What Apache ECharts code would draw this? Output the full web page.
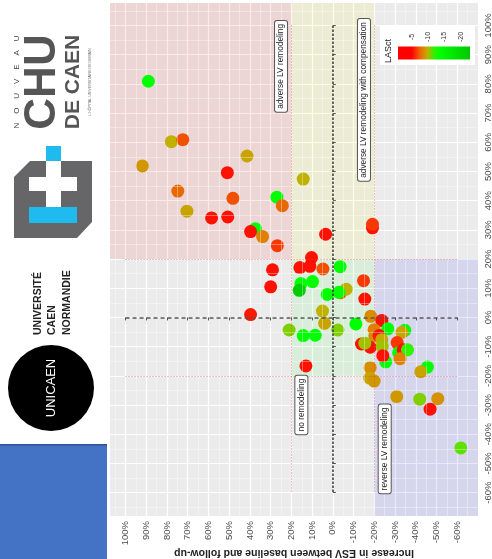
<!DOCTYPE html>
<html>
<head>
<meta charset="utf-8">
<style>html,body{margin:0;padding:0;background:#fff}#c{width:492px;height:559px}</style>
<script src="https://cdn.jsdelivr.net/npm/echarts@6/dist/echarts.min.js"></script>
</head>
<body>
<div id="c"></div>
<script>
var xChange = [89,77.9,72.4,91.9,41.4,50.9,74.8,70.4,48.2,27,24.4,14.3,58.5,50.7,37.4,39.7,33.9,26.8,3.5,-19.1,-19.1,10.3,15.9,11.1,4.8,-3.5,29.1,30,-14.8,15.4,9.8,16.2,2.7,-3.7,-6.4,-2.9,-15.4,5,4,-2.4,-11.1,-18.2,21.1,14.3,8.5,13,39.7,-23.6,-26.5,-19.9,-34.7,-33.3,-20.2,-22.3,-23.6,-13.8,-18,-15.4,-23.8,-31,-31.7,-33.9,-36,-25.5,-24.1,-32.4,-18,-17.8,-19.9,-45.6,-42.4,-30.8,-41.9,-50.6,-46.9,-61.7];
var yChange = [80.9,60.2,60.9,51.9,55.3,49.6,43.3,36.4,40.8,41.2,38.3,47.4,34.1,34.4,30.4,29.4,27.7,24.6,28.5,30.7,31.9,20.5,17.1,17.5,16.6,17.4,16.3,10.5,12.6,11.6,12.3,9.3,7.9,8.5,9.7,8.6,6.3,2.2,-2,-4.3,-2.2,0.4,-4.3,-6.2,-6.1,-16.6,1,-1,-3.9,-4.2,-4.4,-5.1,-6.3,-6.2,-7.6,-9.1,-10.2,-8.8,-9.9,-8.6,-12.1,-11.1,-11.1,-15.2,-13.1,-14.1,-17.2,-20.8,-21.8,-17,-18.6,-27.1,-28,-27.8,-31.4,-44.7];
var lasct = [-14,-10,-7,-9,-9.5,-5,-7.5,-9.5,-7,-14,-7.5,-10,-5,-5,-14,-5,-8,-6.5,-5,-5,-6.5,-5,-5,-5,-7,-14,-5,-5,-6.5,-14,-14,-20,-14,-7,-10,-14,-5,-10,-9.5,-11,-14,-8.5,-11,-14,-14,-5,-5.5,-5,-14,-8,-14,-9.5,-8.5,-5,-9.7,-5,-5,-10.5,-10.5,-6.5,-14,-5,-12.5,-14,-5,-8,-8.5,-9.5,-9,-14,-9.5,-9,-11,-8.7,-5,-11.5];
var xTicks = [-60,-50,-40,-30,-20,-10,0,10,20,30,40,50,60,70,80,90,100];
var yTicks = [-60,-50,-40,-30,-20,-10,0,10,20,30,40,50,60,70,80,90,100];
var legendTicks = [-5,-10,-15,-20];
var zoneNames = ['adverse LV remodeling','adverse LV remodeling with compensation','no remodeling','reverse LV remodeling'];
var zoneLabelX = [25,-15,15.2,-25];
var zoneLabelY = [86,74.5,-30,-45];
var xMinor = [-65,-55,-45,-35,-25,-15,-5,5,15,25,35,45,55,65,75,85,95,105];
var yMinor = [-65,-55,-45,-35,-25,-15,-5,5,15,25,35,45,55,65,75,85,95,105];

var XMIN=-70, XMAX=107.5, YMIN=-68, YMAX=107.7;
var points = xChange.map(function(x,i){return [x,yChange[i],lasct[i]];});
var minorData = xMinor.map(function(v){return [{coord:[v,YMIN]},{coord:[v,YMAX]}];})
  .concat(yMinor.map(function(v){return [{coord:[XMIN,v]},{coord:[XMAX,v]}];}));
var dotted = [[[20,100],[20,-60]],[[-20,100],[-20,-60]],[[100,20],[-60,20]],[[100,-20],[-60,-20]]];
var pct = function(v){return v+'%';};

var R=Math.PI/2;
function rtext(x,y,t,font,color,align){
  var s={text:t,font:font,fill:color,textAlign:align||'center',textVerticalAlign:'middle'};
  return {type:'text',x:x,y:y,rotation:R,z:20,silent:true,style:s};
}
var legendX=legendTicks.map(function(v){return 411.7+(-5-v)*3.27;});
var graphics = [
  {type:'rect',shape:{x:0,y:0,width:110,height:559},z:10,silent:true,style:{fill:'#fff'}},
  rtext(17,82,'N    O    U    V    E    A    U','8px "Liberation Sans"','#444'),
  rtext(43,82,'CHU','bold 44px "Liberation Sans"','#555'),
  rtext(73,82,'DE CAEN','bold 21px "Liberation Sans"','#555'),
  rtext(90,82,"L'HÔPITAL UNIVERSITAIRE DE DEMAIN",'3.6px "Liberation Sans"','#666'),
  {type:'polygon',z:20,silent:true,shape:{points:[[30,161],[92,161],[92,222],[77,238],[14,238],[14,177]]},style:{fill:'#666668'}},
  {type:'rect',z:21,silent:true,shape:{x:46,y:146,width:15,height:15},style:{fill:'#1FBAEE'}},
  {type:'rect',z:21,silent:true,shape:{x:46,y:161,width:15,height:46},style:{fill:'#fff'}},
  {type:'rect',z:21,silent:true,shape:{x:29,y:177,width:48,height:14},style:{fill:'#fff'}},
  {type:'rect',z:21,silent:true,shape:{x:29,y:207,width:48,height:16},style:{fill:'#1FBAEE'}},
  rtext(38,335,'UNIVERSITÉ','bold 10.5px "Liberation Sans"','#222','left'),
  rtext(52,335,'CAEN','bold 10.5px "Liberation Sans"','#222','left'),
  rtext(67,335,'NORMANDIE','bold 10.5px "Liberation Sans"','#222','left'),
  {type:'circle',z:20,silent:true,shape:{cx:51,cy:388,r:43},style:{fill:'#000'}},
  rtext(51,388,'UNICAEN','13px "Liberation Sans"','#fff'),
  {type:'rect',z:20,silent:true,shape:{x:0,y:445,width:107,height:114},style:{fill:'#4472C4'}},
  {type:'rect',z:21,silent:true,shape:{x:0,y:444,width:107,height:1.5},style:{fill:'#2F528F'}},
  {type:'rect',z:20,silent:true,shape:{x:380,y:26,width:95,height:39},style:{fill:'#fff'}},
  {type:'rect',z:21,silent:true,shape:{x:398,y:46.5,width:72,height:13},style:{fill:{type:'linear',x:0,y:0,x2:1,y2:0,colorStops:[
    {offset:0,color:'#ff0000'},{offset:0.19,color:'#ff0000'},{offset:0.3,color:'#f06000'},{offset:0.41,color:'#c0b000'},
    {offset:0.5,color:'#30f000'},{offset:0.58,color:'#00ff00'},{offset:1,color:'#00c800'}]}}},
  rtext(389,51,'LASct','9px "Liberation Sans"','#222')
].concat(legendTicks.map(function(v,i){return rtext(legendX[i],37,String(v),'7px "Liberation Sans"','#333');}));

var chart = echarts.init(document.getElementById('c'),null,{renderer:'canvas'});
var axisCommon = {
  type:'value',
  axisLine:{show:false},
  axisTick:{show:true,length:3,lineStyle:{color:'#555',width:1}},
  splitLine:{show:true,lineStyle:{color:'#fff',width:1.2}},
  minorSplitLine:{show:false},
  axisLabel:{rotate:90,color:'#4d4d4d',fontSize:9.5,fontFamily:'Liberation Sans',margin:5}
};
function mk(o,ticks){var a=JSON.parse(JSON.stringify(axisCommon));a.axisLabel.formatter=pct;
  a.axisTick.customValues=ticks;a.axisLabel.customValues=ticks;for(var k in o)a[k]=o[k];return a;}
function lineSeries(data,style){
  return {type:'line',data:[],z:1,silent:true,
    markLine:{silent:true,symbol:'none',animation:false,label:{show:false},lineStyle:style,
      data:data}};
}
chart.setOption({
  animation:false,
  graphic:graphics,
  grid:{left:110,top:3,width:368,height:513,backgroundColor:'#EBEBEB',show:true,borderWidth:0,outerBoundsMode:'none'},
  xAxis:mk({min:XMIN,max:XMAX,inverse:true,position:'bottom',name:'Increase in ESV between baseline and follow-up',
    nameLocation:'middle',nameRotate:180,nameGap:31,nameMoveOverlap:false,
    nameTextStyle:{fontSize:10.5,fontWeight:'bold',fontFamily:'Liberation Sans',color:'#222'}},xTicks),
  yAxis:mk({min:YMIN,max:YMAX,position:'right'},yTicks),
  visualMap:{show:false,dimension:2,seriesIndex:5,min:-22,max:-2,
    inRange:{color:['#00c000','#00cc00','#00d800','#00e600','#00ff00','#40f000','#c0b000','#e08000','#ff2000','#ff0000','#ff0000']}},
  series:[
    lineSeries(minorData,{color:'rgba(255,255,255,0.45)',width:0.8,type:'solid'}),
    {type:'line',data:[],z:1,silent:true,
      markArea:{silent:true,data:[
        [{xAxis:XMAX,yAxis:YMAX,itemStyle:{color:'rgba(255,0,0,0.09)'}},{xAxis:20,yAxis:20}],
        [{xAxis:20,yAxis:YMAX,itemStyle:{color:'rgba(255,255,0,0.09)'}},{xAxis:-20,yAxis:20}],
        [{xAxis:20,yAxis:20,itemStyle:{color:'rgba(0,255,0,0.07)'}},{xAxis:-20,yAxis:-20}],
        [{xAxis:-20,yAxis:20,itemStyle:{color:'rgba(0,0,255,0.09)'}},{xAxis:XMIN,yAxis:YMIN}]
      ]}},
    lineSeries(dotted.map(function(d){return [{coord:d[0]},{coord:d[1]}];}),{color:'rgba(225,70,70,0.7)',width:1,type:[1,2]}),
    lineSeries([[{coord:[100,0]},{coord:[-60,0]}]],{color:'#555',width:1.5,type:[4,3]}),
    lineSeries([[{coord:[0,100]},{coord:[0,-60]}]],{color:'#444',width:1.6,type:[2.5,1.5]}),
    {type:'scatter',data:points,symbolSize:13,z:3,itemStyle:{opacity:1}},
    {type:'line',data:[],z:5,silent:true,
      markPoint:{silent:true,symbol:'rect',symbolSize:1,itemStyle:{color:'rgba(0,0,0,0)'},
        label:{show:true,position:'inside',rotate:90,formatter:'{b}',fontSize:8.3,fontFamily:'Liberation Sans',color:'#222',
          backgroundColor:'#fff',borderColor:'#555',borderWidth:1,borderRadius:2,padding:[2,3]},
        data:zoneNames.map(function(n,i){return {name:n,coord:[zoneLabelX[i],zoneLabelY[i]]};})}}
  ]
});
</script>
</body>
</html>
